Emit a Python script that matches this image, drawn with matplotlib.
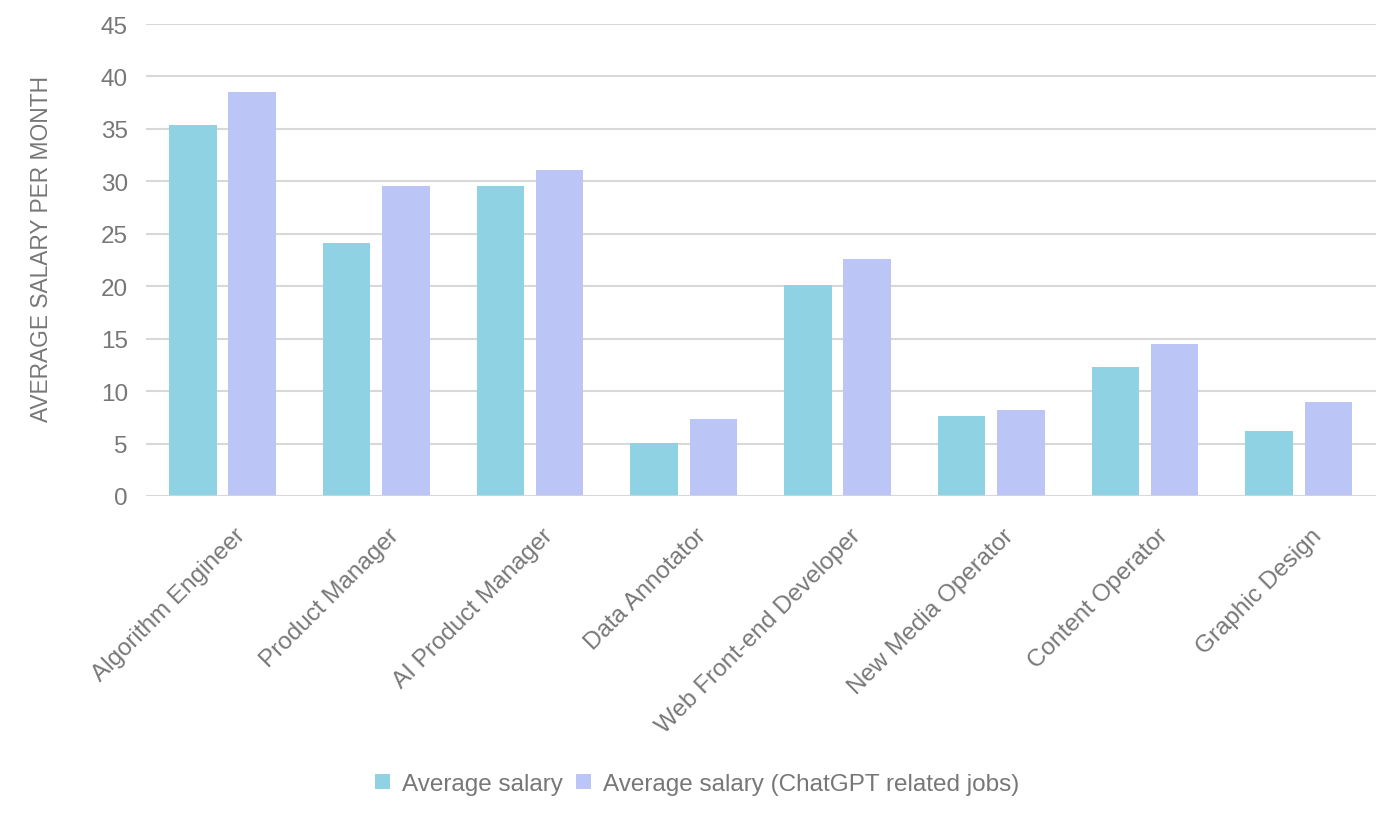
import matplotlib.pyplot as plt
import matplotlib.transforms as mtransforms
import numpy as np

plt.rcParams['font.family'] = ['Liberation Sans', 'DejaVu Sans']

# --- data --- #
jobs = ['Algorithm Engineer', 'Product Manager', 'AI Product Manager', 'Data Annotator',
        'Web Front-end Developer', 'New Media Operator', 'Content Operator', 'Graphic Design']
avg_salary = [35.4, 24.1, 29.6, 5.1, 20.1, 7.6, 12.3, 6.2]
avg_salary_gpt = [38.5, 29.6, 31.1, 7.3, 22.6, 8.2, 14.5, 9.0]

c_teal = '#8fd2e4'
c_purple = '#bbc6f7'
c_text = '#777777'
c_grid = '#d8d8d8'

fig = plt.figure(figsize=(13.98, 8.2), dpi=100)
ax = fig.add_axes([146/1398, 323/820, 1230/1398, 472/820])

x = np.arange(len(jobs))
w = 0.31
ax.bar(x - 0.195, avg_salary, w, color=c_teal, label='Average salary', zorder=3)
ax.bar(x + 0.19, avg_salary_gpt, w, color=c_purple,
       label='Average salary (ChatGPT related jobs)', zorder=3)

ax.set_xlim(-0.5, len(jobs) - 0.5)
ax.set_ylim(0, 45)
ax.set_yticks(range(0, 46, 5))
ax.grid(axis='y', color=c_grid, linewidth=1.5, zorder=0)
ax.axhline(0, color=c_grid, linewidth=1.8, zorder=4)
for s in ax.spines.values():
    s.set_visible(False)

ax.tick_params(axis='y', length=0, pad=13, labelsize=17.5, labelcolor=c_text)
ax.tick_params(axis='x', length=0, pad=0, labelsize=17.5, labelcolor=c_text)

ax.set_xticks(x)
ax.set_xticklabels(jobs, rotation=45, ha='right', va='center', rotation_mode='anchor')
offset = mtransforms.ScaledTranslation(19/100, -36/100, fig.dpi_scale_trans)
for lab in ax.get_xticklabels():
    lab.set_transform(lab.get_transform() + offset)

fig.text(42/1398, 1 - 249/820, 'AVERAGE SALARY PER MONTH', rotation=90,
         ha='center', va='center', fontsize=16.4, color=c_text)

leg = fig.legend(loc='center', bbox_to_anchor=(697/1398, 1 - 785/820), ncol=2,
                 frameon=False, fontsize=17.5, handlelength=0.6, handleheight=0.6,
                 handletextpad=0.5, columnspacing=0.55)
for t in leg.get_texts():
    t.set_color(c_text)

fig.savefig('out.png', dpi=100)
